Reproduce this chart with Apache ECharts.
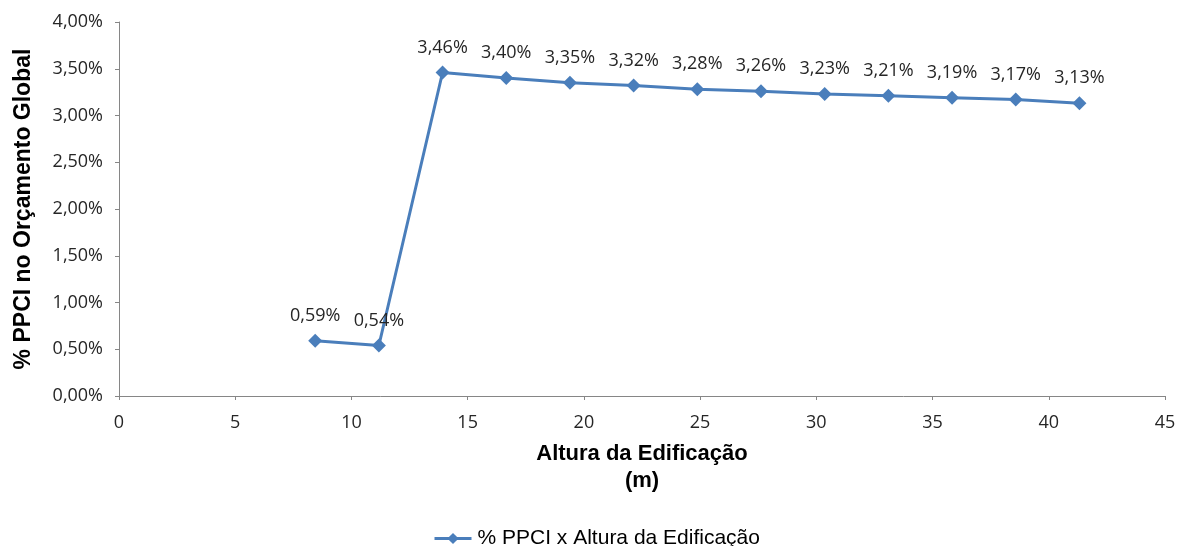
<!DOCTYPE html>
<html>
<head>
<meta charset="utf-8">
<script src="https://cdn.jsdelivr.net/npm/echarts@6/dist/echarts.min.js"></script>
<style>
  html, body { margin: 0; padding: 0; background: #ffffff; }
  #chart { width: 1180px; height: 546px; }
</style>
</head>
<body>
<div id="chart"></div>
<script>
// Building height (m) and share of fire-protection cost in the total budget (%)
const alturas = [8.44, 11.18, 13.92, 16.66, 19.40, 22.14, 24.88, 27.62, 30.36, 33.10, 35.84, 38.58, 41.32];
const percentuais = [0.59, 0.54, 3.46, 3.40, 3.35, 3.32, 3.28, 3.26, 3.23, 3.21, 3.19, 3.17, 3.13];
const serieNome = '% PPCI x Altura da Edificação';
const eixoX = 'Altura da Edificação\n(m)';
const eixoY = '% PPCI no Orçamento Global';

const fmtPct = v => v.toFixed(2).replace('.', ',') + '%';

const chart = echarts.init(document.getElementById('chart'), null, { renderer: 'canvas' });
const azul = '#4a7ebb';
const cinza = '#868686';
const texto = '#262626';

chart.setOption({
  animation: false,
  backgroundColor: '#ffffff',
  grid: { left: 119, right: 15, top: 22, bottom: 150, containLabel: false },
  xAxis: {
    type: 'value',
    min: 0, max: 45, interval: 5,
    name: eixoX,
    nameLocation: 'middle',
    nameGap: 44,
    nameTextStyle: { fontFamily: 'Liberation Sans', fontWeight: 'bold', fontSize: 22, color: '#000', lineHeight: 27 },
    axisLine: { show: true, lineStyle: { color: cinza, width: 1 } },
    axisTick: { show: true, length: 4, lineStyle: { color: cinza } },
    splitLine: { show: false },
    axisLabel: { fontFamily: 'Open Sans', fontSize: 18, color: texto, margin: 18 }
  },
  yAxis: {
    type: 'value',
    min: 0, max: 4, interval: 0.5,
    name: eixoY,
    nameLocation: 'middle',
    nameGap: 84,
    nameRotate: 90,
    nameTextStyle: { fontFamily: 'Liberation Sans', fontWeight: 'bold', fontSize: 23, color: '#000' },
    axisLine: { show: true, lineStyle: { color: cinza, width: 1 } },
    axisTick: { show: true, length: 4, lineStyle: { color: cinza } },
    splitLine: { show: false },
    axisLabel: { fontFamily: 'Open Sans', fontSize: 18, color: texto, margin: 16, formatter: v => fmtPct(v) }
  },
  legend: {
    top: 523,
    left: 428,
    itemWidth: 37, itemHeight: 14,
    itemGap: 10,
    lineStyle: { width: 3 },
    textStyle: { fontFamily: 'Liberation Sans', fontSize: 21, color: '#000', padding: [0, 0, 0, 1] },
    data: [serieNome]
  },
  series: [{
    name: serieNome,
    type: 'line',
    data: alturas.map((x, i) => [x, percentuais[i]]),
    symbol: 'diamond',
    symbolSize: 14,
    itemStyle: { color: azul },
    lineStyle: { color: azul, width: 3 },
    label: {
      show: true,
      position: 'top',
      distance: 9,
      fontFamily: 'Open Sans',
      fontSize: 18,
      color: texto,
      formatter: p => fmtPct(p.value[1])
    }
  }]
});
</script>
</body>
</html>
